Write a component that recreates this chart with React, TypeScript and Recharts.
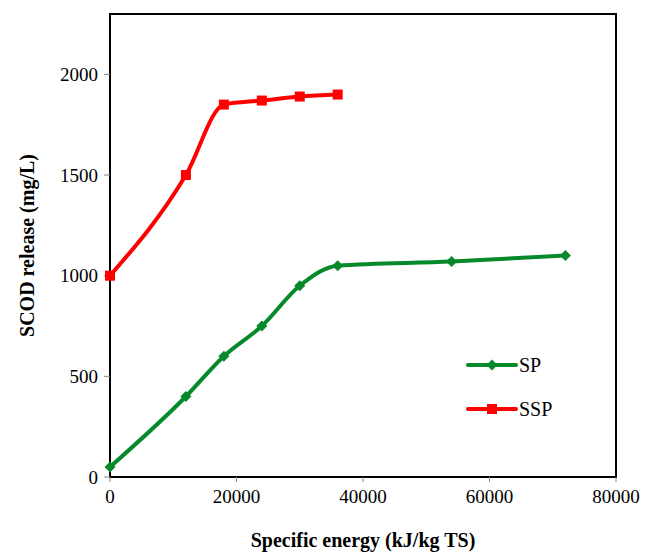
import React from 'react';
import { LineChart, Line, XAxis, YAxis, ReferenceArea } from 'recharts';

// Specific energy (kJ/kg TS)
const spEnergy = [0, 12000, 18000, 24000, 30000, 36000, 54000, 72000];
const spScod = [50, 400, 600, 750, 950, 1050, 1070, 1100];

const sspEnergy = [0, 12000, 18000, 24000, 30000, 36000];
const sspScod = [1000, 1500, 1850, 1870, 1890, 1900];

const xTicks = [0, 20000, 40000, 60000, 80000];
const yTicks = [0, 500, 1000, 1500, 2000];

const spData = spEnergy.map((x, i) => ({ x, y: spScod[i] }));
const sspData = sspEnergy.map((x, i) => ({ x, y: sspScod[i] }));

const GREEN = '#05892b';
const RED = '#ff0000';
const FONT = '"Liberation Serif", "Times New Roman", serif';

const Diamond = (props: any) => {
  const { cx, cy, fill } = props;
  if (cx == null || cy == null) return null;
  const r = 5.5;
  return <path d={`M${cx},${cy - r}L${cx + r},${cy}L${cx},${cy + r}L${cx - r},${cy}Z`} fill={fill} />;
};

const Square = (props: any) => {
  const { cx, cy, fill } = props;
  if (cx == null || cy == null) return null;
  const s = 5;
  return <rect x={cx - s} y={cy - s} width={s * 2} height={s * 2} fill={fill} />;
};

const LegendBox = () => {
  const items = [
    { name: 'SP', color: GREEN, marker: 'diamond' },
    { name: 'SSP', color: RED, marker: 'square' },
  ];
  return (
    <svg width={110} height={80} style={{ display: 'block' }}>
      {items.map((it, i) => {
        const y = 12 + i * 44;
        return (
          <g key={it.name}>
            <line x1={2} x2={50} y1={y} y2={y} stroke={it.color} strokeWidth={4} strokeLinecap="round" />
            {it.marker === 'diamond' ? (
              <Diamond cx={26} cy={y} fill={it.color} />
            ) : (
              <Square cx={26} cy={y} fill={it.color} />
            )}
            <text x={53} y={y + 7} fontFamily={FONT} fontSize={20} fill="#000">
              {it.name}
            </text>
          </g>
        );
      })}
    </svg>
  );
};

export default function App() {
  return (
    <div style={{ position: 'absolute', left: 0, top: 0, width: 649, height: 552, background: '#fff' }}>
      <LineChart
        width={649}
        height={552}
        margin={{ top: 14, right: 33, left: 50, bottom: 0 }}
      >
        <ReferenceArea x1={0} x2={80000} y1={0} y2={2300} fill="none" stroke="#000" strokeWidth={2} ifOverflow="extendDomain" />
        <XAxis
          dataKey="x"
          type="number"
          domain={[0, 80000]}
          ticks={xTicks}
          allowDuplicatedCategory={false}
          height={75}
          tickLine={{ stroke: '#888' }}
          tickSize={5}
          axisLine={{ stroke: '#000', strokeWidth: 2 }}
          tick={{ fontFamily: FONT, fontSize: 19, fill: '#000' }}
          tickMargin={8}
          label={{
            value: 'Specific energy (kJ/kg TS)',
            position: 'insideBottom',
            offset: 5,
            style: { fontFamily: FONT, fontSize: 20, fontWeight: 'bold', fill: '#000' },
          }}
        />
        <YAxis
          dataKey="y"
          type="number"
          domain={[0, 2300]}
          ticks={yTicks}
          width={60}
          tickLine={{ stroke: '#888' }}
          tickSize={6}
          axisLine={{ stroke: '#000', strokeWidth: 2 }}
          tick={{ fontFamily: FONT, fontSize: 19, fill: '#000' }}
          tickMargin={6}
          label={{
            value: 'SCOD release (mg/L)',
            angle: -90,
            position: 'insideLeft',
            offset: -23,
            style: { textAnchor: 'middle', fontFamily: FONT, fontSize: 20, fontWeight: 'bold', fill: '#000' },
          }}
        />
        <Line
          data={spData}
          dataKey="y"
          name="SP"
          type="monotone"
          stroke={GREEN}
          strokeWidth={4}
          dot={(p: any) => <Diamond key={`sp-${p.index}`} cx={p.cx} cy={p.cy} fill={GREEN} />}
          activeDot={false}
          isAnimationActive={false}
        />
        <Line
          data={sspData}
          dataKey="y"
          name="SSP"
          type="monotone"
          stroke={RED}
          strokeWidth={4}
          dot={(p: any) => <Square key={`ssp-${p.index}`} cx={p.cx} cy={p.cy} fill={RED} />}
          activeDot={false}
          isAnimationActive={false}
        />
      </LineChart>
      <div style={{ position: 'absolute', left: 466, top: 353 }}>
        <LegendBox />
      </div>
    </div>
  );
}
